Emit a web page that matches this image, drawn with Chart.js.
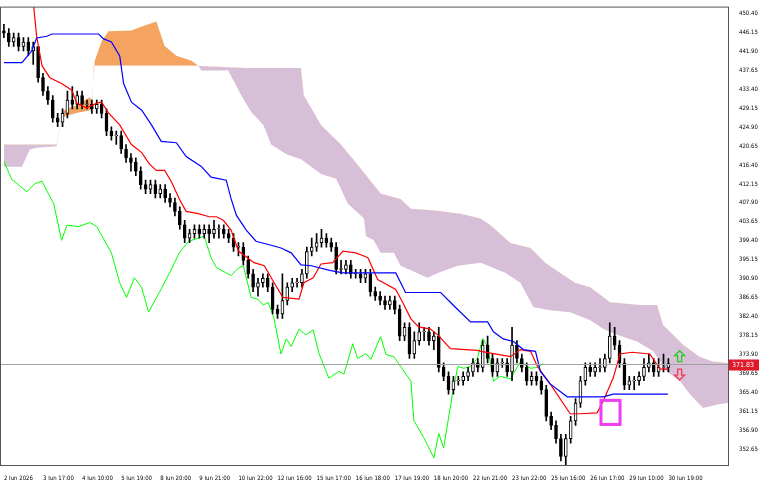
<!DOCTYPE html>
<html><head><meta charset="utf-8">
<script src="https://cdn.jsdelivr.net/npm/chart.js@4"></script>
<style>html,body{margin:0;padding:0;background:#fff}#w{width:768px;height:480px}</style>
</head><body><div id="w"><canvas id="c" width="768" height="480"></canvas></div>
<script>
const xLabels=["2 Jun 2026","3 Jun 17:00","4 Jun 10:00","5 Jun 19:00","8 Jun 20:00","9 Jun 21:00","10 Jun 22:00","12 Jun 16:00","15 Jun 17:00","16 Jun 18:00","17 Jun 19:00","18 Jun 20:00","22 Jun 21:00","23 Jun 22:00","25 Jun 16:00","26 Jun 17:00","29 Jun 10:00","30 Jun 19:00"];
const yTicks=[450.40,446.15,441.90,437.65,433.40,429.15,424.90,420.65,416.40,412.15,407.90,403.65,399.40,395.15,390.90,386.65,382.40,378.15,373.90,369.65,365.40,361.15,356.90,352.65];
const closeP=[446,444,445,443,444,442,443,436,433,431,427,426,428,431,430,432,430,430,429,430,428,424,423,423,420,418,417,415,412,411,412,410,411,409,408,406,403,400,401,402,401,402,401,402,402,401,400,398,398,395,392,389,390,391,389,384,383,386,389,390,390,392,397,398,399,400,399,398,393,393,394,392,392,391,392,388,387,386,385,386,384,378,380,374,377,379,379,377,378,371,369,366,368,368,369,370,372,371,376,373,370,372,372,370,376,373,371,368,369,368,366,360,358,355,351,355,359,363,368,371,370,371,371,373,378,376,372,367,368,368,369,371,372,370,371,371,371.83];
const openP=[446.5,446,444,445,443,444,442,443,436,433,431,427,426,428,431,430,432,430,430,429,430,428,424,423,423,420,418,417,415,412,411,412,410,411,409,408,406,403,400,401,402,401,402,401,402,402,401,400,398,398,395,392,389,390,391,389,384,383,386,389,390,390,392,397,398,399,400,399,398,393,393,394,392,392,391,392,388,387,386,385,386,384,378,380,374,377,379,379,377,378,371,369,366,368,368,369,370,372,371,376,373,370,372,372,370,376,373,371,368,369,368,366,360,358,355,351,355,359,363,368,371,370,371,371,373,378,376,372,367,368,368,369,371,372,370,371,371];
const highP=[448,447,446,446,445,445,444,443,437,434,432,428,429,433,434,433,433,431,431,431,431,429,425,424,424,421,419,418,416,413,413,413,412,412,410,409,407,404,402,403,403,403,403,404,403,403,402,401,399,399,396,393,391,392,392,390,385,392,390,391,391,393,398,400,401,402,401,400,399,395,395,395,393,393,393,393,389,388,387,387,387,385,381,381,379,381,380,380,379,380,372,370,369,369,370,371,373,373,377,378,374,373,373,373,380,377,374,372,370,370,369,367,361,359,356,356,360,364,369,372,372,372,373,374,381,380,377,373,369,369,370,373,374,373,373,374,373];
const lowP=[445,443,443,442,442,441,439,435,432,430,426,425,425,427,429,429,429,429,428,428,427,423,422,421,419,417,415,414,411,410,410,409,409,408,407,405,402,399,399,400,400,400,399,400,400,400,399,397,396,394,391,388,387,389,388,383,382,382,385,388,389,389,391,396,397,398,398,397,392,392,392,391,391,390,390,387,386,385,384,384,383,377,377,373,373,376,377,376,375,370,368,365,365,367,367,368,369,370,370,372,369,369,371,369,368,372,370,367,367,367,365,359,357,354,350,349,354,358,362,367,369,369,370,370,372,375,371,366,366,366,367,368,370,369,369,370,370];
const tenkanX=[6.1,6.7,7.8,9.4,11.8,13.9,14.9,16.9,19.0,20.0,21.4,23.7,26.1,28.2,29.8,31.2,32.9,34.3,35.9,37.3,39.8,42.0,43.5,44.9,46.5,48.0,51.2,53.3,55.3,57.1,60.4,61.4,63.3,64.9,67.3,69.4,72.0,73.7,74.5,76.5,80.2,81.6,83.3,84.9,87.3,88.8,91.4,96.9,97.6,103.7,105.7,107.8,109.2,111.8,115.9,118.0,121.4,122.7,124.7,126.1,128.6,132.2,134.3,135.9];
const tenkanY=[451.9,445.3,438.7,436.0,434.7,433.2,430.3,429.2,430.3,430.5,428.1,425.4,421.0,419.2,416.6,415.2,415.2,412.6,408.8,406.0,405.5,404.8,404.8,404.0,401.8,397.1,394.5,393.8,390.0,386.7,386.3,390.0,391.1,394.2,394.5,397.1,396.7,396.0,395.6,390.7,388.5,385.6,381.9,380.1,379.6,378.3,375.2,374.8,374.6,373.4,375.0,374.6,371.2,367.3,360.6,360.6,360.8,363.5,368.6,374.0,374.4,374.0,370.6,370.6];
const kijunX=[0,3.7,5.7,6.7,8.8,9.8,19.4,20.4,22.0,23.7,24.5,26.1,28.2,30.2,32.2,35.3,37.3,40.4,42.4,45.5,46.5,47.6,49.6,51.6,54.7,56.7,58.8,60.8,62.9,66.9,69.4,80.2,82.2,89.4,92.4,95.5,99.0,100.2,102.2,104.3,106.3,108.8,109.8,111.8,115.3,122.7,124.7,135.9];
const kijunY=[439.4,439.4,442.0,444.9,445.3,445.8,445.8,444.7,444.0,440.9,434.7,430.5,428.7,425.4,421.7,421.4,418.3,416.1,413.7,413.0,408.8,405.1,401.8,399.3,398.4,397.8,396.7,394.0,393.8,392.7,392.2,392.2,387.8,387.8,384.5,381.2,381.2,379.0,377.4,376.8,375.0,374.6,370.1,367.3,364.4,364.4,365.0,365.0];
const chikouX=[0,1.6,4.7,6.3,7.8,8.8,10.2,11.8,12.9,15.3,17.6,19.0,22.0,23.7,25.1,26.7,28.2,29.6,31.8,33.9,35.9,37.8,41.0,42.4,43.5,46.5,48.0,49.0,50.6,52.0,53.1,54.1,55.3,56.7,57.8,58.8,60.4,61.8,63.3,64.5,66.5,68.6,69.6,71.4,72.4,74.1,75.1,77.1,78.2,79.8,83.3,83.9,85.9,88.0,89.0,90.0,91.8,92.9,94.1,95.5,96.9,98.0,99.0,100.2,101.6,103.7,105.7,107.8,109.2,110.4];
const chikouY=[417.2,413.2,410.4,412.2,412.8,410.6,407.7,399.5,402.9,402.6,403.5,402.6,396.7,390.0,386.7,391.1,388.9,383.4,387.8,392.2,396.7,399.3,400.4,395.6,393.4,391.6,393.3,393.8,386.7,386.3,385.0,385.6,381.9,374.0,377.4,375.7,379.6,378.3,379.4,374.1,368.6,370.1,369.5,376.3,373.0,374.1,372.8,377.9,373.9,373.4,367.9,359.1,355.3,350.7,356.2,352.9,365.0,371.2,370.8,371.2,373.0,377.5,375.7,367.9,369.0,368.4,372.3,370.8,371.0,371.9];
const spanAX=[0,3.7,5.3,6.7,10.8,11.4,12.2,14.9,17.6,18.0,18.6,20.0,21.4,26.1,28.2,31.2,32.9,35.3,38.4,39.8,40.4,45.9,48.6,50.6,53.1,54.7,57.8,60.8,64.9,68.0,70.4,73.7,74.1,75.7,77.1,79.8,81.2,86.7,88.8,92.9,97.6,102.7,105.7,108.4,111.8,115.9,120.0,122.7,125.5,129.6,132.9,135.7,138.4,140.4,143.1,146.5,148.2];
const spanAY=[416.0,416.0,419.9,420.3,420.6,424.3,428.7,429.8,431.6,431.0,439.8,444.2,446.4,446.6,447.5,448.6,443.1,440.9,439.8,438.7,437.6,437.6,432.0,428.3,425.4,421.0,418.8,417.7,414.4,413.3,407.7,404.4,400.4,399.5,396.7,396.7,393.8,391.1,392.2,393.8,394.5,392.2,390.0,384.5,383.8,383.4,381.6,379.6,378.3,376.8,374.6,370.1,367.9,365.0,361.9,362.8,363.0];
const spanBX=[0,10.8,11.8,14.9,18.0,18.4,39.4,49.6,60.8,61.4,64.9,69.0,73.1,77.1,81.2,83.3,88.4,93.5,97.6,99.6,103.7,107.8,110.8,113.9,116.9,120.0,124.1,130.2,133.7,134.9,137.8,139.0,142.4,145.1,148.2];
const spanBY=[421.0,421.0,427.0,428.1,428.7,438.7,438.7,438.2,438.2,432.0,425.4,421.0,415.5,410.0,408.8,406.6,406.2,405.5,404.4,402.9,398.9,397.8,394.5,392.2,390.0,389.0,385.6,385.0,385.0,380.5,377.4,376.1,373.4,372.3,372.0];
const lastPrice=371.83;

const pts=(xs,ys)=>xs.map((x,i)=>({x,y:ys[i]}));
const idx=closeP.map((_,i)=>i);
const bull=idx.map(i=>closeP[i]>=openP[i]);
const bodies=idx.map(i=>({x:i,y:[openP[i],closeP[i]===openP[i]?closeP[i]+0.15:closeP[i]]}));
const wicks=idx.map(i=>({x:i,y:[lowP[i],highP[i]]}));

const extras={id:'extras',afterDatasetsDraw(ch){
  const {ctx,chartArea:a,scales:{x,y}}=ch;
  ctx.save();
  const py=Math.round(y.getPixelForValue(lastPrice))+0.5;
  ctx.strokeStyle='#a0a0a0';ctx.lineWidth=1;
  ctx.beginPath();ctx.moveTo(a.left,py);ctx.lineTo(a.right,py);ctx.stroke();
  ctx.fillStyle='#e0192a';ctx.fillRect(a.right+1,py-5,30,11);
  ctx.fillStyle='#fff';ctx.font='7px "DejaVu Sans Condensed"';ctx.textBaseline='middle';
  ctx.fillText(lastPrice.toFixed(2),a.right+4,py+0.5);
  const bx1=x.getPixelForValue(122.2),bx2=x.getPixelForValue(126.1);
  const by1=y.getPixelForValue(363.6),by2=y.getPixelForValue(358.2);
  ctx.strokeStyle='#f03cf0';ctx.lineWidth=3;ctx.strokeRect(bx1,by1,bx2-bx1,by2-by1);
  const ax=x.getPixelForValue(138.3);
  const ua=y.getPixelForValue(373.4), da=y.getPixelForValue(369.5);
  ctx.lineWidth=1.3;
  ctx.strokeStyle='#22cc22';ctx.beginPath();
  ctx.moveTo(ax,ua-6);ctx.lineTo(ax+5,ua-1);ctx.lineTo(ax+2,ua-1);ctx.lineTo(ax+2,ua+5);ctx.lineTo(ax-2,ua+5);ctx.lineTo(ax-2,ua-1);ctx.lineTo(ax-5,ua-1);ctx.closePath();ctx.stroke();
  ctx.strokeStyle='#f03c50';ctx.beginPath();
  ctx.moveTo(ax,da+6);ctx.lineTo(ax+5,da+1);ctx.lineTo(ax+2,da+1);ctx.lineTo(ax+2,da-5);ctx.lineTo(ax-2,da-5);ctx.lineTo(ax-2,da+1);ctx.lineTo(ax-5,da+1);ctx.closePath();ctx.stroke();
  ctx.strokeStyle='#555';ctx.lineWidth=1;
  ctx.strokeRect(a.left+0.5,a.top+0.5,a.right-a.left,a.bottom-a.top);
  ctx.restore();
}};

new Chart(document.getElementById('c'),{
  type:'bar',
  data:{datasets:[
    {type:'line',label:'SpanA',data:pts(spanAX,spanAY),borderWidth:0,borderColor:'rgba(0,0,0,0)',pointRadius:0,tension:0,
      fill:{target:1,above:'rgba(244,164,96,1)',below:'rgba(216,191,216,1)'},order:10},
    {type:'line',label:'SpanB',data:pts(spanBX,spanBY),borderWidth:0,borderColor:'rgba(0,0,0,0)',pointRadius:0,tension:0,fill:false,order:10},
    {type:'line',label:'Chikou',data:pts(chikouX,chikouY),borderColor:'#00ff00',borderWidth:1,pointRadius:0,tension:0,fill:false,order:3},
    {label:'wick',data:wicks,backgroundColor:'#000',barThickness:1,grouped:false,order:2},
    {label:'body',data:bodies,backgroundColor:idx.map(i=>bull[i]?'#fff':'#000'),borderColor:'#000',borderWidth:1,borderSkipped:false,barThickness:3,grouped:false,order:1},
    {type:'line',label:'Kijun',data:pts(kijunX,kijunY),borderColor:'#0000ff',borderWidth:1.2,pointRadius:0,tension:0,fill:false,order:0},
    {type:'line',label:'Tenkan',data:pts(tenkanX,tenkanY),borderColor:'#ff0000',borderWidth:1.2,pointRadius:0,tension:0,fill:false,order:0}
  ]},
  options:{responsive:false,animation:false,
    layout:{padding:{left:0,top:0,right:0,bottom:0}},
    plugins:{legend:{display:false},tooltip:{enabled:false}},
    scales:{
      x:{type:'linear',min:-0.8,max:148.2,offset:false,grid:{display:false},border:{display:false},
        afterBuildTicks:s=>{s.ticks=xLabels.map((_,i)=>({value:i*8}));},
        afterFit:s=>{s.height=15;},
        ticks:{autoSkip:false,maxRotation:0,font:{size:6,family:'"DejaVu Sans Condensed"'},color:'#000',padding:2,align:'start',
          callback:(v)=>xLabels[Math.round(v/8)]}},
      y:{position:'right',min:349.1,max:451.95,grid:{display:false},border:{display:false},
        afterBuildTicks:s=>{s.ticks=yTicks.map(v=>({value:v}));},
        afterFit:s=>{s.width=40;},
        ticks:{font:{size:6,family:'"DejaVu Sans Condensed"'},color:'#000',padding:3,callback:v=>v.toFixed(2)}}
    }},
  plugins:[extras]
});
</script></body></html>
